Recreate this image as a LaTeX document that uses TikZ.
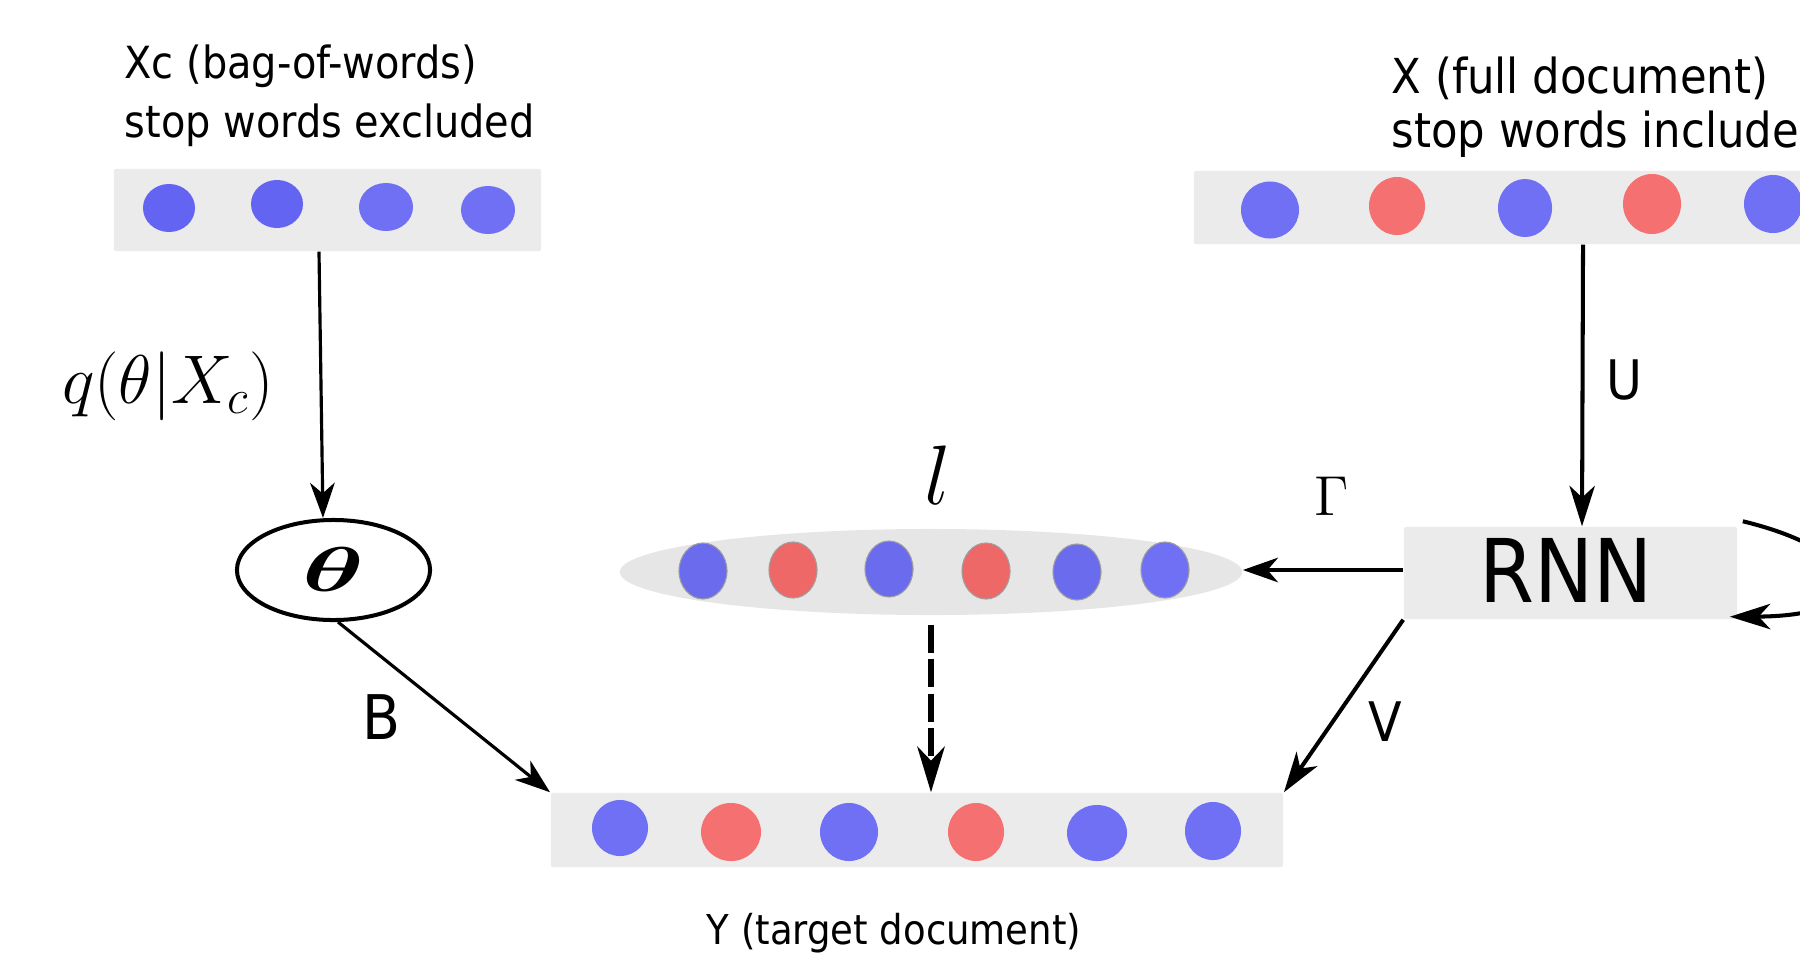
\RequirePackage{fix-cm}
\documentclass[tikz,border=0pt]{standalone}
\usepackage{amsmath}
\usepackage{graphicx}
\usepackage{fontspec}
\setmainfont{DejaVuSansCondensed.ttf}
\usetikzlibrary{arrows.meta,shapes.geometric,calc}

\definecolor{boxgray}{HTML}{EBEBEB}
\definecolor{lgray}{HTML}{E6E6E6}
\definecolor{blueA}{HTML}{6464F2}
\definecolor{blueB}{HTML}{7070F5}
\definecolor{redA}{HTML}{F57070}
\definecolor{blueL}{HTML}{6B6BEE}
\definecolor{redL}{HTML}{EE6868}

\begin{document}
\begin{tikzpicture}[x=0.01cm,y=-0.01cm,
  bar/.style={fill=boxgray, rounded corners=0.6pt, inner sep=0pt},
  dot/.style={ellipse, inner sep=0pt},
  ldot/.style={ellipse, inner sep=0pt, draw=gray!75, line width=0.3pt},
  lab/.style={inner sep=0pt},
  arr/.style={-{Stealth[length=10pt,width=7pt,inset=3pt]}, line width=0.9pt},
  arrthick/.style={-{Stealth[length=11.5pt,width=7.2pt,inset=3.3pt]}, line width=1.15pt},
  dasharr/.style={-{Stealth[length=13pt,width=7.8pt,inset=4pt]}, line width=1.6pt,
                  dash pattern=on 8pt off 1.8pt}
]
\useasboundingbox (0,0) rectangle (1800,957);
\clip (0,0) rectangle (1800,957);

% input vectors, latent vector and target vector
\node[bar, minimum width=4.27cm, minimum height=0.82cm] (xc) at (327.5,210) {};
\node[bar, minimum width=6.66cm, minimum height=0.73cm] (xbox) at (1527,207.5) {};
\node[bar, minimum width=7.32cm, minimum height=0.74cm] (ybox) at (917,830) {};
\node[ellipse, fill=lgray, inner sep=0pt, minimum width=6.22cm, minimum height=0.86cm] (lvec) at (931,572) {};

% word dots
\foreach \x/\y/\w/\h/\c [count=\i] in
  {169/208/0.52/0.48/blueA, 277/204/0.52/0.48/blueA, 386/207/0.54/0.48/blueB, 488/210/0.54/0.48/blueB}
  \node[dot, fill=\c, minimum width=\w cm, minimum height=\h cm] (xcd\i) at (\x,\y) {};
\foreach \x/\y/\w/\h/\c [count=\i] in
  {1270/210/0.58/0.57/blueB, 1397/206/0.56/0.58/redA, 1525/208/0.54/0.58/blueB,
   1652/204/0.58/0.60/redA, 1773/204/0.58/0.58/blueB}
  \node[dot, fill=\c, minimum width=\w cm, minimum height=\h cm] (xd\i) at (\x,\y) {};
\foreach \x/\y/\c [count=\i] in
  {703/571/blueL, 793/570/redL, 889/569/blueL, 986/571/redL, 1077/572/blueL, 1165/570/blueB}
  \node[ldot, fill=\c, minimum width=0.48cm, minimum height=0.56cm] (ld\i) at (\x,\y) {};
\foreach \x/\y/\w/\h/\c [count=\i] in
  {620/828/0.56/0.56/blueB, 731/832/0.60/0.58/redA, 849/832/0.58/0.58/blueB,
   976/832/0.56/0.58/redA, 1097/833/0.60/0.56/blueB, 1213/831/0.56/0.58/blueB}
  \node[dot, fill=\c, minimum width=\w cm, minimum height=\h cm] (yd\i) at (\x,\y) {};

% topic node and RNN
\node[ellipse, draw, line width=1.14pt, fill=white, inner sep=0pt,
      minimum width=1.93cm, minimum height=1.0cm,
      font=\fontsize{18}{21}\selectfont] (theta) at (333.5,570)
      {\scalebox{1.65}[1]{$\boldsymbol{\theta}$}};
\node[bar, minimum width=3.33cm, minimum height=0.92cm] (rnn) at (1570.5,573) {};
\node[lab, anchor=base, font=\fontsize{25}{29}\selectfont] (rnntxt) at (1566,602) {RNN};

% captions
\node[lab, anchor=base west, font=\fontsize{12.6}{15}\selectfont] (xcA) at (124,78) {Xc (bag-of-words)};
\node[lab, anchor=base west, font=\fontsize{12.6}{15}\selectfont] (xcB) at (124,137) {stop words excluded};
\node[lab, anchor=base west, font=\fontsize{13.7}{16}\selectfont] (xA) at (1391,93) {X (full document)};
\node[lab, anchor=base west, font=\fontsize{13.7}{16}\selectfont] (xB) at (1391,147) {stop words included};
\node[lab, anchor=base, font=\fontsize{11.7}{14}\selectfont] (ylab) at (894,944) {Y (target document)};

% connectors
\draw[arr] ([xshift=-0.085cm]xc.south) -- ([xshift=-0.105cm]theta.north);
\draw[arr] ([xshift=0.045cm]theta.south) -- (ybox.north west);
\draw[dasharr] ([yshift=-0.09cm]lvec.south) -- (lvec.south |- ybox.north);
\draw[arr] ([yshift=0.03cm]rnn.west) -- ([yshift=0.03cm]rnn.west -| lvec.east);
\draw[arrthick] ([xshift=0.56cm]xbox.south) -- ([xshift=0.115cm]rnn.north);
\draw[arrthick] (rnn.south west) -- (ybox.north east);
\draw[arrthick] ([shift={(0.05cm,0.05cm)}]rnn.north east)
  .. controls (1870,552) and (1885,616) .. ([shift={(-0.08cm,0.03cm)}]rnn.south east);

% edge labels
\node[lab, anchor=base, font=\fontsize{19.6}{23}\selectfont] (qlab) at (168,403) {$q(\theta|X_c)$};
\node[lab, font=\fontsize{24}{28}\selectfont] (llab) at (938,475) {$l$};
\node[lab, font=\fontsize{16}{19}\selectfont] (glab) at (1332,496) {$\Gamma$};
\node[lab, font=\fontsize{17.5}{20}\selectfont] (blab) at (381,717) {B};
\node[lab, font=\fontsize{15.5}{18}\selectfont] (ulab) at (1624,380) {U};
\node[lab, font=\fontsize{15.5}{18}\selectfont] (vlab) at (1385,722) {V};
\end{tikzpicture}
\end{document}
